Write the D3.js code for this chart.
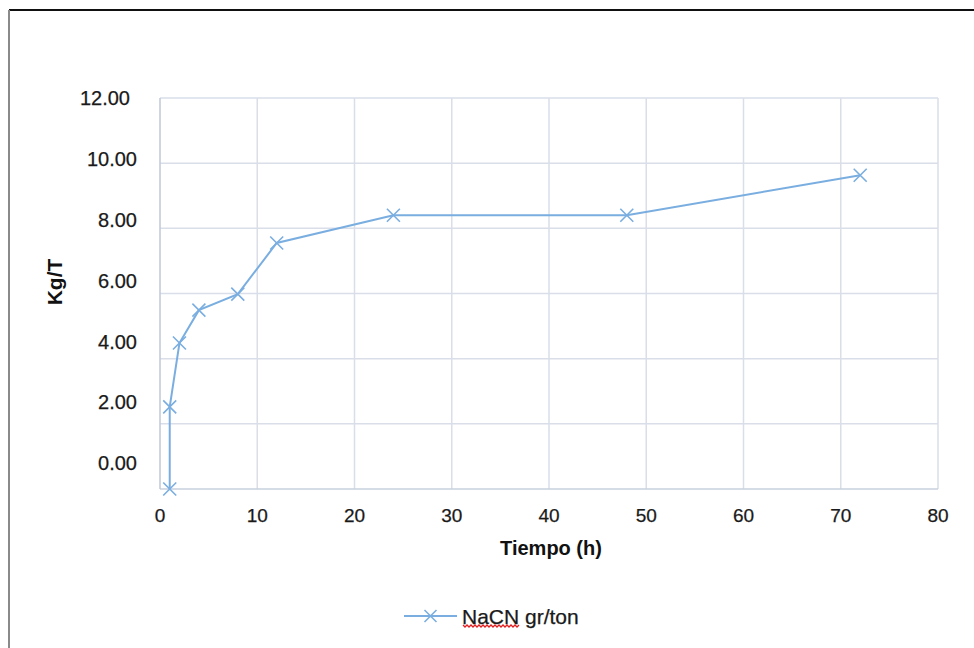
<!DOCTYPE html>
<html>
<head>
<meta charset="utf-8">
<script src="https://cdn.jsdelivr.net/npm/d3@7"></script>
<style>
  html, body { margin: 0; padding: 0; background: #fff; }
  svg { display: block; font-family: "Liberation Sans", Arial, sans-serif; }
</style>
</head>
<body>
<svg id="chart" width="974" height="648"></svg>
<script>
// Data
const tiempo = [1, 1, 2, 4, 8, 12, 24, 48, 72];
const nacn = [0.0, 2.52, 4.48, 5.49, 5.98, 7.55, 8.4, 8.4, 9.63];
const yTickLabels = ["0.00", "2.00", "4.00", "6.00", "8.00", "10.00", "12.00"];
const yTickValues = [0, 2, 4, 6, 8, 10, 12];
const xTickValues = [0, 10, 20, 30, 40, 50, 60, 70, 80];
const seriesName = "NaCN gr/ton";

const svg = d3.select("#chart");

// frame
svg.append("line").attr("x1", 9).attr("x2", 974).attr("y1", 10).attr("y2", 10)
  .attr("stroke", "#111").attr("stroke-width", 2);
svg.append("line").attr("x1", 9).attr("x2", 9).attr("y1", 10).attr("y2", 648)
  .attr("stroke", "#8a8a8a").attr("stroke-width", 2);

const x = d3.scaleLinear().domain([0, 80]).range([160, 938]);
const y = d3.scaleLinear().domain([0, 12]).range([489, 98]);
// labels in the original sit on a slightly compressed ladder
const yLab = d3.scaleLinear().domain([0, 12]).range([463, 98]);

const grid = "#d9dee9";
const txt = "#1a1a1a";
// horizontal gridlines
svg.append("g").selectAll("line").data(yTickValues.filter(v => v > 0)).join("line")
  .attr("x1", x(0)).attr("x2", x(80))
  .attr("y1", d => y(d)).attr("y2", d => y(d))
  .attr("stroke", grid).attr("stroke-width", 1.5);
// vertical gridlines
svg.append("g").selectAll("line").data(xTickValues.filter(v => v > 0)).join("line")
  .attr("x1", d => x(d)).attr("x2", d => x(d))
  .attr("y1", y(12)).attr("y2", y(0))
  .attr("stroke", grid).attr("stroke-width", 1.5);
// axes lines
svg.append("line").attr("x1", x(0)).attr("x2", x(80)).attr("y1", y(0)).attr("y2", y(0))
  .attr("stroke", "#c9d0de").attr("stroke-width", 1.5);
svg.append("line").attr("x1", x(0)).attr("x2", x(0)).attr("y1", y(12)).attr("y2", y(0))
  .attr("stroke", "#bfc8d8").attr("stroke-width", 1.5);

// y tick labels
svg.append("g").selectAll("text").data(yTickValues).join("text")
  .attr("x", d => d === 12 ? 130 : 137)
  .attr("y", d => yLab(d))
  .attr("dy", "0.36em")
  .attr("text-anchor", "end")
  .attr("font-size", 20)
  .attr("fill", txt).attr("stroke", txt).attr("stroke-width", 0.25)
  .text((d, i) => yTickLabels[i]);

// x tick labels
svg.append("g").selectAll("text").data(xTickValues).join("text")
  .attr("x", d => x(d))
  .attr("y", 522)
  .attr("text-anchor", "middle")
  .attr("font-size", 19)
  .attr("fill", txt).attr("stroke", txt).attr("stroke-width", 0.25)
  .text(d => d);

// axis titles
svg.append("text").attr("x", 551).attr("y", 555)
  .attr("text-anchor", "middle").attr("font-size", 20).attr("font-weight", "bold")
  .attr("fill", "#111").text("Tiempo (h)");
svg.append("text")
  .attr("transform", "translate(62,282) rotate(-90)")
  .attr("text-anchor", "middle").attr("font-size", 21).attr("font-weight", "bold")
  .attr("fill", "#111").text("Kg/T");

// series
const color = "#7aaee0";
const pts = tiempo.map((t, i) => [t, nacn[i]]);
svg.append("path")
  .attr("d", d3.line().x(d => x(d[0])).y(d => y(d[1]))(pts))
  .attr("fill", "none").attr("stroke", color).attr("stroke-width", 2);

const cross = (g, s) => g.append("path")
  .attr("d", `M${-s},${-s}L${s},${s}M${-s},${s}L${s},${-s}`)
  .attr("stroke", color).attr("stroke-width", 1.6).attr("fill", "none");

svg.append("g").selectAll("g").data(pts).join("g")
  .attr("transform", d => `translate(${x(d[0])},${y(d[1])})`)
  .each(function () { cross(d3.select(this), 6.5); });

// legend
const lg = svg.append("g").attr("transform", "translate(404,616)");
lg.append("line").attr("x1", 0).attr("x2", 53).attr("y1", 0).attr("y2", 0)
  .attr("stroke", color).attr("stroke-width", 2);
cross(lg.append("g").attr("transform", "translate(26.5,0)"), 6);
lg.append("text").attr("x", 58).attr("y", 0).attr("dy", "0.36em")
  .attr("font-size", 21).attr("fill", txt).attr("stroke", txt).attr("stroke-width", 0.25)
  .text(seriesName);
// spell-check squiggle under "NaCN"
let sq = "M59,9";
for (let i = 0; i < 28; i++) sq += `l2,${i % 2 ? -2 : 2}`;
lg.append("path").attr("d", sq).attr("fill", "none").attr("stroke", "#e02020").attr("stroke-width", 1.3);
</script>
</body>
</html>
